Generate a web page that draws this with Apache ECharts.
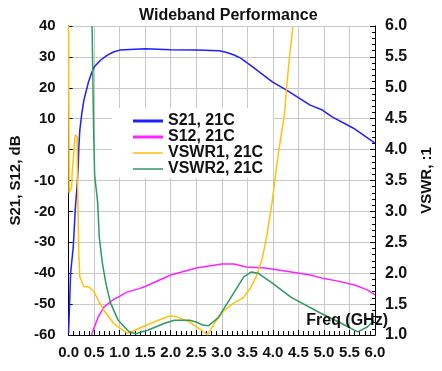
<!DOCTYPE html>
<html>
<head>
<meta charset="utf-8">
<script src="https://cdn.jsdelivr.net/npm/echarts@6/dist/echarts.min.js"></script>
<style>
  html, body { margin: 0; padding: 0; background: #fff; }
  #chart { width: 442px; height: 371px; }
</style>
</head>
<body>
<div id="chart"></div>
<script>
// S21 gain (dB) vs frequency (GHz)
const s21Freq = [0, 0.02, 0.04, 0.09, 0.11, 0.13, 0.17, 0.19, 0.2, 0.22, 0.26, 0.3, 0.35, 0.39, 0.45, 0.5, 0.63, 0.76, 0.88, 1.0, 1.5, 2.0, 2.5, 2.95, 3.1, 3.24, 3.37, 3.61, 3.99, 4.26, 4.73, 4.97, 5.16, 5.57, 6.0];
const s21Db = [-59.4, -49.6, -39.9, -31.8, -26, -19.5, -10.8, -5, 0.5, 6.3, 11.8, 16, 19.3, 21.9, 24.8, 26.7, 29, 30.6, 31.6, 32.2, 32.6, 32.3, 32.2, 32.0, 31.4, 30.6, 29.6, 26.7, 21.9, 19.3, 14.4, 12.8, 10.6, 7, 2.1];

// S12 isolation (dB)
const s12Freq = [0.45, 0.48, 0.58, 0.69, 0.82, 0.88, 1.0, 1.13, 1.38, 1.5, 2.0, 2.5, 3.0, 3.24, 3.48, 3.85, 4.36, 4.73, 4.97, 5.23, 5.6, 5.85, 6.0];
const s12Db = [-60, -58.5, -54.2, -51, -49.3, -48.5, -47.5, -46.2, -45.0, -44.3, -40.6, -38.3, -37, -37, -38, -38.3, -39.6, -40.6, -41.6, -42.4, -43.8, -45.4, -47];

// input VSWR
const vswr1Freq = [0, 0.01, 0.06, 0.07, 0.13, 0.17, 0.175, 0.2, 0.22, 0.3, 0.39, 0.5, 0.6, 0.69, 0.88, 1.06, 1.15, 1.23, 1.38, 1.88, 2.0, 2.13, 2.37, 2.6, 2.72, 2.87, 3.05, 3.24, 3.43, 3.56, 3.67, 3.74, 3.8, 3.89, 3.99, 4.08, 4.17, 4.23, 4.26, 4.32, 4.39];
const vswr1 = [6.0, 3.3, 3.39, 3.62, 4.24, 4.2, 3.51, 2.33, 1.94, 1.78, 1.78, 1.70, 1.53, 1.40, 1.19, 1.08, 1.03, 1.05, 1.11, 1.28, 1.31, 1.29, 1.21, 1.08, 1.0, 1.21, 1.40, 1.52, 1.61, 1.76, 1.94, 2.1, 2.26, 2.65, 3.18, 3.78, 4.27, 4.59, 4.92, 5.45, 5.98];

// output VSWR
const vswr2Freq = [0.46, 0.49, 0.51, 0.57, 0.6, 0.66, 0.73, 0.82, 0.97, 1.19, 1.32, 1.56, 1.88, 2.07, 2.37, 2.5, 2.63, 2.74, 2.93, 3.18, 3.43, 3.58, 3.71, 3.99, 4.36, 4.92, 5.29, 5.66, 5.85, 5.98];
const vswr2 = [6.0, 4.32, 3.59, 3.14, 2.59, 2.17, 1.84, 1.52, 1.24, 1.05, 1.02, 1.08, 1.19, 1.24, 1.24, 1.21, 1.16, 1.15, 1.28, 1.61, 1.94, 2.02, 2.0, 1.84, 1.61, 1.36, 1.21, 1.05, 1.13, 1.24];

const seriesNames = ['S21, 21C', 'S12, 21C', 'VSWR1, 21C', 'VSWR2, 21C'];
const seriesColors = ['#1f1fff', '#ff22ff', '#ffc20e', '#2f9a5f'];

const pairs = (xs, ys) => xs.map((x, i) => [x, ys[i]]);

const font = 'Arial, "Liberation Sans", sans-serif';
const boldText = { color: '#111', fontWeight: 'bold', fontFamily: font, fontSize: 15 };

// legend swatches: a thick bar and a thin bar (aspect kept inside 30x10 box)
const thickIcon = 'path://M0,0H30V3H0Z';
const thinIcon = 'path://M0,0H60V3H0Z';

const chart = echarts.init(document.getElementById('chart'));

function lineSeries(i, data, yAxisIndex) {
  return {
    name: seriesNames[i],
    type: 'line',
    yAxisIndex,
    data,
    symbol: 'none',
    animation: false,
    lineStyle: { color: seriesColors[i], width: 1.5 },
    itemStyle: { color: seriesColors[i] },
  };
}

chart.setOption({
  backgroundColor: '#fff',
  animation: false,
  title: {
    text: 'Wideband Performance',
    left: 134,
    top: 3,
    textStyle: { ...boldText, fontSize: 16 },
  },
  grid: { left: 66, right: 54, top: 26, bottom: 36 },
  legend: {
    orient: 'vertical',
    left: 112,
    top: 108,
    backgroundColor: '#fff',
    padding: [5, 10, 1, 21],
    itemWidth: 30,
    itemHeight: 10,
    itemGap: 0,
    symbolKeepAspect: true,
    textStyle: { ...boldText, fontSize: 16, lineHeight: 16 },
    data: [
      { name: seriesNames[0], icon: thickIcon },
      { name: seriesNames[1], icon: thickIcon },
      { name: seriesNames[2], icon: thinIcon },
      { name: seriesNames[3], icon: thinIcon },
    ],
  },
  graphic: [
    {
      type: 'text',
      right: 54,
      top: 313,
      z: 100,
      style: { text: 'Freq (GHz)', fill: '#111', font: 'bold 16px ' + font },
    },
  ],
  xAxis: {
    type: 'value',
    min: 0,
    max: 6,
    interval: 0.5,
    axisLine: { onZero: false, lineStyle: { color: '#000', width: 1 } },
    axisTick: { inside: true, length: 5, lineStyle: { color: '#000' } },
    minorTick: { show: true, splitNumber: 5, length: 4, lineStyle: { color: '#000' } },
    splitLine: { show: true, lineStyle: { color: '#c8c8c8', width: 1 } },
    axisLabel: { ...boldText, margin: 10, formatter: v => v.toFixed(1) },
  },
  yAxis: [
    {
      type: 'value',
      min: -60,
      max: 40,
      interval: 10,
      name: 'S21, S12, dB',
      nameLocation: 'middle',
      nameGap: 42,
      nameTextStyle: { ...boldText, fontSize: 15 },
      axisLine: { show: true, lineStyle: { color: '#000', width: 1 } },
      axisTick: { show: true, inside: true, length: 4, lineStyle: { color: '#000' } },
      splitLine: { show: true, lineStyle: { color: '#c8c8c8', width: 1 } },
      axisLabel: { ...boldText, margin: 13 },
    },
    {
      type: 'value',
      position: 'right',
      min: 1,
      max: 6,
      interval: 0.5,
      name: 'VSWR, :1',
      nameLocation: 'middle',
      nameGap: 44,
      nameTextStyle: { ...boldText, fontSize: 15 },
      axisLine: { show: true, lineStyle: { color: '#000', width: 1 } },
      axisTick: { show: true, inside: true, length: 5, lineStyle: { color: '#000' } },
      minorTick: { show: true, splitNumber: 5, length: 3, lineStyle: { color: '#000' } },
      splitLine: { show: false },
      axisLabel: { ...boldText, fontSize: 16, margin: 10, formatter: v => v.toFixed(1) },
    },
  ],
  series: [
    lineSeries(0, pairs(s21Freq, s21Db), 0),
    lineSeries(1, pairs(s12Freq, s12Db), 0),
    lineSeries(2, pairs(vswr1Freq, vswr1), 1),
    lineSeries(3, pairs(vswr2Freq, vswr2), 1),
  ],
});
</script>
</body>
</html>
